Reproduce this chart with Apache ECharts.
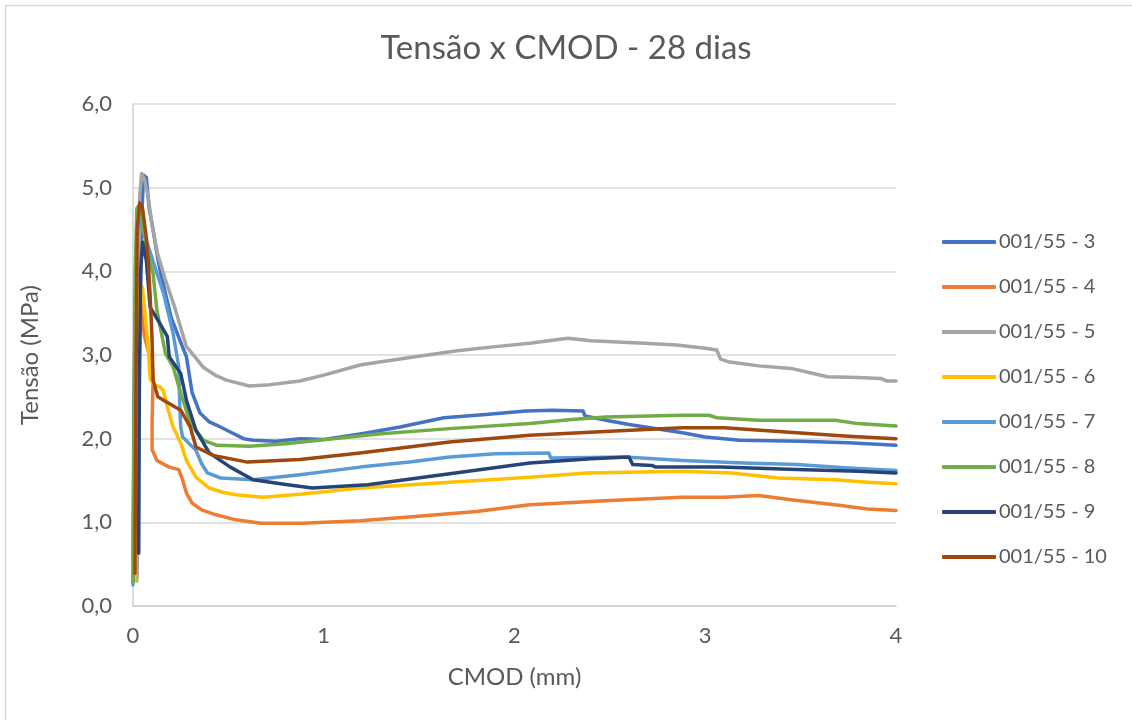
<!DOCTYPE html>
<html>
<head>
<meta charset="utf-8">
<script src="https://cdn.jsdelivr.net/npm/echarts@6/dist/echarts.min.js"></script>
<style>
  html, body { margin: 0; padding: 0; background: #fff; }
  #chart { width: 1132px; height: 720px; }
</style>
</head>
<body>
<div id="chart"></div>
<script>
// Tensão x CMOD curves, 28 days — pairs of [CMOD (mm), Tensão (MPa)]
const seriesNames = ['001/55 - 3', '001/55 - 4', '001/55 - 5', '001/55 - 6',
                     '001/55 - 7', '001/55 - 8', '001/55 - 9', '001/55 - 10'];
const seriesColors = ['#4472C4', '#ED7D31', '#A5A5A5', '#FFC000',
                      '#5B9BD5', '#70AD47', '#264478', '#9E480E'];

const cp3 = [[0.02,0.35],[0.03,2.5],[0.045,4.6],[0.055,5.15],[0.07,5.12],[0.085,4.75],[0.105,4.5],[0.13,4.15],[0.15,3.93],[0.2,3.45],[0.25,3.15],[0.28,2.98],[0.31,2.55],[0.35,2.31],[0.4,2.2],[0.44,2.16],[0.51,2.08],[0.58,2.0],[0.63,1.98],[0.75,1.97],[0.875,2.0],[1.0,1.99],[1.2,2.06],[1.4,2.14],[1.63,2.25],[1.85,2.29],[2.06,2.33],[2.2,2.34],[2.36,2.33],[2.37,2.27],[2.48,2.22],[2.6,2.17],[2.88,2.07],[3.0,2.02],[3.18,1.98],[3.5,1.97],[3.75,1.95],[4.0,1.92]];
const cp4 = [[0.0,0.55],[0.005,2.0],[0.01,3.6],[0.015,3.78],[0.03,3.72],[0.04,3.66],[0.05,3.42],[0.06,3.22],[0.08,3.05],[0.1,2.9],[0.105,2.7],[0.1,2.2],[0.1,1.87],[0.125,1.74],[0.19,1.66],[0.24,1.63],[0.26,1.51],[0.28,1.35],[0.31,1.23],[0.36,1.15],[0.42,1.1],[0.54,1.03],[0.67,0.99],[0.89,0.99],[1.19,1.02],[1.48,1.07],[1.8,1.13],[2.08,1.21],[2.5,1.26],[2.88,1.30],[3.1,1.30],[3.28,1.32],[3.45,1.27],[3.68,1.21],[3.85,1.16],[4.0,1.14]];
const cp5 = [[0.02,0.3],[0.025,2.5],[0.035,4.9],[0.045,5.17],[0.06,5.1],[0.08,4.88],[0.1,4.55],[0.13,4.2],[0.17,3.9],[0.22,3.56],[0.28,3.1],[0.31,3.02],[0.37,2.85],[0.43,2.76],[0.49,2.70],[0.61,2.63],[0.7,2.64],[0.81,2.67],[0.875,2.69],[1.0,2.76],[1.19,2.88],[1.3,2.92],[1.48,2.98],[1.7,3.05],[1.9,3.1],[2.08,3.14],[2.28,3.2],[2.4,3.17],[2.68,3.14],[2.85,3.12],[3.0,3.08],[3.06,3.06],[3.08,2.95],[3.12,2.92],[3.28,2.87],[3.45,2.84],[3.64,2.74],[3.8,2.73],[3.92,2.72],[3.95,2.69],[4.0,2.69]];
const cp6 = [[0.01,0.3],[0.015,2.0],[0.025,3.7],[0.04,3.84],[0.05,3.8],[0.06,3.57],[0.08,3.10],[0.09,2.72],[0.11,2.64],[0.14,2.62],[0.16,2.57],[0.18,2.38],[0.21,2.14],[0.25,1.95],[0.28,1.74],[0.33,1.54],[0.4,1.41],[0.47,1.36],[0.54,1.33],[0.68,1.30],[0.89,1.34],[1.19,1.41],[1.66,1.48],[2.08,1.54],[2.38,1.59],[2.6,1.6],[2.88,1.61],[3.14,1.59],[3.38,1.53],[3.68,1.51],[3.85,1.48],[4.0,1.46]];
const cp7 = [[0.0,0.25],[0.005,2.5],[0.015,4.2],[0.03,4.6],[0.05,4.5],[0.08,4.3],[0.115,4.05],[0.16,3.74],[0.21,3.26],[0.24,2.86],[0.245,2.4],[0.25,2.14],[0.26,2.02],[0.33,1.86],[0.36,1.7],[0.39,1.59],[0.46,1.53],[0.63,1.51],[0.875,1.57],[1.19,1.66],[1.45,1.72],[1.66,1.78],[1.9,1.82],[2.18,1.83],[2.19,1.77],[2.58,1.78],[2.88,1.74],[3.2,1.71],[3.48,1.69],[3.75,1.65],[4.0,1.62]];
const cp8 = [[0.0,0.28],[0.005,2.0],[0.012,4.0],[0.02,4.75],[0.035,4.8],[0.05,4.6],[0.07,4.3],[0.09,4.1],[0.105,3.98],[0.125,3.54],[0.17,3.02],[0.21,2.86],[0.25,2.55],[0.3,2.19],[0.37,1.98],[0.44,1.92],[0.61,1.91],[0.8,1.94],[1.05,2.0],[1.3,2.06],[1.66,2.12],[2.08,2.18],[2.3,2.23],[2.48,2.26],[2.88,2.28],[3.02,2.28],[3.06,2.25],[3.28,2.22],[3.68,2.22],[3.8,2.18],[4.0,2.15]];
const cp9 = [[0.03,0.63],[0.033,2.5],[0.04,4.0],[0.05,4.35],[0.07,4.13],[0.09,3.57],[0.14,3.38],[0.18,3.22],[0.19,2.98],[0.25,2.78],[0.28,2.46],[0.33,2.10],[0.4,1.83],[0.51,1.66],[0.63,1.51],[0.81,1.45],[0.94,1.41],[1.23,1.45],[1.66,1.58],[2.08,1.71],[2.4,1.76],[2.6,1.78],[2.62,1.69],[2.72,1.68],[2.74,1.66],[3.08,1.66],[3.48,1.63],[3.8,1.61],[4.0,1.59]];
const cp10 = [[0.01,0.39],[0.015,2.5],[0.022,4.5],[0.035,4.82],[0.05,4.75],[0.07,4.4],[0.08,4.13],[0.09,3.7],[0.10,3.18],[0.105,2.70],[0.13,2.5],[0.16,2.46],[0.25,2.34],[0.3,2.14],[0.33,1.9],[0.42,1.8],[0.6,1.72],[0.875,1.75],[1.19,1.83],[1.66,1.96],[2.08,2.04],[2.5,2.09],[2.88,2.13],[3.1,2.13],[3.48,2.07],[3.75,2.03],[4.0,2.0]];

const seriesData = [cp3, cp4, cp5, cp6, cp7, cp8, cp9, cp10];

const FONT = 'Lato';
const TEXT = '#595959';

const chart = echarts.init(document.getElementById('chart'), null, { renderer: 'canvas' });

chart.setOption({
  animation: false,
  backgroundColor: '#ffffff',
  textStyle: { fontFamily: FONT },
  title: {
    text: 'Tensão x CMOD - 28 dias',
    left: 'center',
    top: 27,
    textStyle: { fontFamily: FONT, fontSize: 33, fontWeight: 'normal', color: TEXT }
  },
  graphic: [{
    type: 'rect',
    shape: { x: 5.5, y: 5.5, width: 1140, height: 740 },
    style: { fill: null, stroke: '#D9D9D9', lineWidth: 1.5 },
    silent: true
  }],
  legend: {
    orient: 'vertical',
    left: 942,
    top: 231,
    padding: 0,
    icon: 'roundRect',
    itemWidth: 54,
    itemHeight: 4,
    itemGap: 23,
    textStyle: { fontFamily: FONT, fontSize: 20, color: TEXT, lineHeight: 22, padding: [0, 0, 0, -2] },
    data: seriesNames
  },
  grid: { left: 133, right: 236, top: 104, bottom: 114 },
  xAxis: {
    type: 'value',
    min: 0, max: 4, interval: 1,
    name: 'CMOD (mm)',
    nameLocation: 'middle',
    nameGap: 59,
    nameTextStyle: { fontFamily: FONT, fontSize: 24, color: TEXT },
    axisLine: { show: true, onZero: false, lineStyle: { color: '#D0D0D0', width: 1.5 } },
    axisTick: { show: false },
    splitLine: { show: false },
    axisLabel: { fontFamily: FONT, fontSize: 22, color: TEXT, margin: 19 }
  },
  yAxis: {
    type: 'value',
    min: 0, max: 6, interval: 1,
    name: 'Tensão (MPa)',
    nameLocation: 'middle',
    nameGap: 91,
    nameTextStyle: { fontFamily: FONT, fontSize: 24, color: TEXT },
    axisLine: { show: true, lineStyle: { color: '#D0D0D0', width: 1.5 } },
    axisTick: { show: false },
    splitLine: { show: true, lineStyle: { color: '#D9D9D9', width: 1.5 } },
    axisLabel: {
      fontFamily: FONT, fontSize: 22, color: TEXT, margin: 21,
      formatter: v => v.toFixed(1).replace('.', ',')
    }
  },
  series: seriesNames.map((name, i) => ({
    name,
    type: 'line',
    data: seriesData[i],
    showSymbol: false,
    symbol: 'none',
    smooth: false,
    color: seriesColors[i],
    lineStyle: { width: 3.5, color: seriesColors[i], cap: 'round', join: 'round' },
    z: 2 + i
  }))
});
</script>
</body>
</html>
